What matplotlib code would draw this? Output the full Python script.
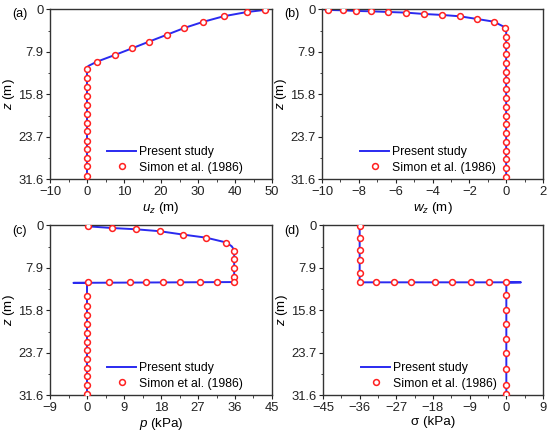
import numpy as np
import matplotlib
matplotlib.use("Agg")
import matplotlib.pyplot as plt
from matplotlib.ticker import FixedLocator

plt.rcParams['font.family'] = ['Liberation Sans', 'DejaVu Sans']
plt.rcParams['mathtext.fontset'] = 'custom'
plt.rcParams['mathtext.it'] = 'Liberation Sans:italic'
plt.rcParams['mathtext.rm'] = 'Liberation Sans'

# ---------------- data ----------------
z_ticks = [0, 7.9, 15.8, 23.7, 31.6]
z_tick_labels = ["0", "7.9", "15.8", "23.7", "31.6"]

# (a) u_z
ua_line = [48.5, 48.0, 43.3, 36.9, 31.3, 26.3, 21.7, 16.8, 12.2, 7.5, 2.7, 0.6, 0.0, 0.0]
za_line = [0.0, 0.12, 0.5, 1.3, 2.35, 3.47, 4.7, 6.0, 7.25, 8.5, 9.73, 10.45, 10.75, 31.6]
ua_pts = [48.0, 43.3, 36.9, 31.3, 26.3, 21.7, 16.8, 12.2, 7.5, 2.7,
          0, 0, 0, 0, 0, 0, 0, 0, 0, 0, 0, 0, 0]
za_pts = [0.12, 0.5, 1.3, 2.35, 3.47, 4.7, 6.0, 7.25, 8.5, 9.73,
          11.15, 12.8, 14.5, 16.1, 17.8, 19.4, 21.1, 22.7, 24.4, 26.0, 27.6, 29.2, 30.9]

# (b) w_z
wb_line = [-9.9, -9.67, -8.86, -8.13, -7.36, -6.39, -5.43, -4.46, -3.48, -2.52, -1.58, -0.67, -0.09, 0.0, 0.0]
zb_line = [0.0, 0.12, 0.19, 0.31, 0.37, 0.5, 0.62, 0.87, 1.05, 1.3, 1.8, 2.3, 3.3, 3.9, 31.6]
wb_pts = [-9.67, -8.86, -8.13, -7.36, -6.39, -5.43, -4.46, -3.48, -2.52, -1.58, -0.67, -0.09,
          0, 0, 0, 0, 0, 0, 0, 0, 0, 0, 0, 0, 0, 0, 0, 0, 0]
zb_pts = [0.12, 0.19, 0.31, 0.37, 0.5, 0.62, 0.87, 1.05, 1.3, 1.8, 2.3, 3.53,
          5.08, 6.69, 8.3, 9.9, 11.6, 13.2, 14.9, 16.5, 18.1, 19.8, 21.4, 23.0, 24.6, 26.3, 27.9, 29.5, 31.1]

# (c) p
pc_line = [0.0, 0.2, 6.0, 11.9, 17.7, 23.4, 29.0, 33.9, 35.2, 35.8, 35.8, -3.3, 0.0, 0.0]
zc_line = [0.0, 0.19, 0.5, 0.74, 1.1, 1.73, 2.3, 3.2, 3.9, 4.6, 10.55, 10.7, 10.7, 31.6]
pc_pts = [0.2, 6.0, 11.9, 17.7, 23.4, 29.0, 33.9,
          35.8, 35.8, 35.8, 35.8, 35.8,
          31.6, 27.5, 22.5, 18.4, 14.4, 10.4, 5.4, 0.2,
          0, 0, 0, 0, 0, 0, 0, 0, 0, 0, 0, 0]
zc_pts = [0.19, 0.5, 0.74, 1.1, 1.73, 2.3, 3.2,
          4.7, 6.3, 8.0, 9.7, 10.55,
          10.6, 10.6, 10.6, 10.6, 10.6, 10.6, 10.6, 10.6,
          13.1, 15.0, 16.7, 18.3, 20.0, 21.6, 23.2, 24.9, 26.5, 28.1, 29.7, 31.3]

# (d) sigma
sd_line = [-36.0, -36.0, 3.6, 0.0, 0.0]
zd_line = [0.0, 10.6, 10.6, 10.65, 31.6]
sd_pts = [-36, -36, -36, -36, -36, -36,
          -32.0, -27.5, -23.3, -17.6, -13.3, -8.6, -4.2, 0.0,
          0, 0, 0, 0, 0, 0, 0, 0]
zd_pts = [0.19, 2.42, 4.5, 6.5, 8.8, 10.6,
          10.6, 10.6, 10.6, 10.6, 10.6, 10.6, 10.6, 10.6,
          12.95, 15.7, 18.4, 21.1, 23.7, 26.8, 29.7, 31.4]

panels = [
    dict(lab="(a)", xl=r"$u_z$ (m)", xlim=(-10, 50), xt=[-10, 0, 10, 20, 30, 40, 50],
         xtl=["\u221210", "0", "10", "20", "30", "40", "50"],
         line=(ua_line, za_line), pts=(ua_pts, za_pts), legx=0.257),
    dict(lab="(b)", xl=r"$w_z$ (m)", xlim=(-10, 2), xt=[-10, -8, -6, -4, -2, 0, 2],
         xtl=["\u221210", "\u22128", "\u22126", "\u22124", "\u22122", "0", "2"],
         line=(wb_line, zb_line), pts=(wb_pts, zb_pts), legx=0.172),
    dict(lab="(c)", xl=r"$p$ (kPa)", xlim=(-9, 45), xt=[-9, 0, 9, 18, 27, 36, 45],
         xtl=["\u22129", "0", "9", "18", "27", "36", "45"],
         line=(pc_line, zc_line), pts=(pc_pts, zc_pts), legx=0.257),
    dict(lab="(d)", xl="\u03c3 (kPa)", xlim=(-45, 9), xt=[-45, -36, -27, -18, -9, 0, 9],
         xtl=["\u221245", "\u221236", "\u221227", "\u221218", "\u22129", "0", "9"],
         line=(sd_line, zd_line), pts=(sd_pts, zd_pts), legx=0.172),
]

W, H = 550, 433
fig = plt.figure(figsize=(W / 100, H / 100), dpi=100)
fig.patch.set_facecolor('white')

boxes = [(50, 272, 9.3, 179.3), (322, 543, 9.3, 179.3),
         (50, 272, 225.3, 395.3), (323, 543, 225.3, 395.3)]
labpos = [(12, 14), (284, 14), (12, 231), (284, 231)]

for p, (l, r, t, b), (lx, ly) in zip(panels, boxes, labpos):
    ax = fig.add_axes([l / W, 1 - b / H, (r - l) / W, (b - t) / H])
    ax.plot(p["line"][0], p["line"][1], color="#2a2af0", lw=1.4, label="Present study", zorder=2)
    ax.plot(p["pts"][0], p["pts"][1], ls="none", marker="o", ms=4.2, mfc="white",
            mec="#ff2020", mew=1.1, label="Simon et al. (1986)", zorder=3)
    ax.set_xlim(*p["xlim"])
    ax.set_ylim(31.6, 0)
    ax.set_xticks(p["xt"])
    ax.set_xticklabels(p["xtl"])
    ax.set_yticks(z_ticks)
    ax.set_yticklabels(z_tick_labels)
    xt = p["xt"]
    ax.xaxis.set_minor_locator(FixedLocator([(xt[i] + xt[i + 1]) / 2 for i in range(len(xt) - 1)]))
    ax.yaxis.set_minor_locator(FixedLocator([(z_ticks[i] + z_ticks[i + 1]) / 2 for i in range(4)]))
    ax.tick_params(which="major", direction="out", length=3, width=0.8, labelsize=9.4, pad=1.5,
                   colors="#222222")
    ax.tick_params(which="minor", direction="out", length=1.8, width=0.6, colors="#222222")
    for s in ax.spines.values():
        s.set_linewidth(1.0)
        s.set_color("#333333")
    ax.set_xlabel(p["xl"], fontsize=9.6, labelpad=1.5)
    ax.set_ylabel(r"$z$ (m)", fontsize=9.6, labelpad=1)
    leg = ax.legend(loc="center left", bbox_to_anchor=(p["legx"], 0.115), frameon=False,
                    fontsize=8.8, borderpad=0, handlelength=2.4, handletextpad=0.25,
                    labelspacing=0.3, borderaxespad=0)
    fig.text(lx / W, 1 - ly / H, p["lab"], fontsize=9, ha="left", va="center")

fig.savefig("out.png", dpi=100, facecolor="white")
